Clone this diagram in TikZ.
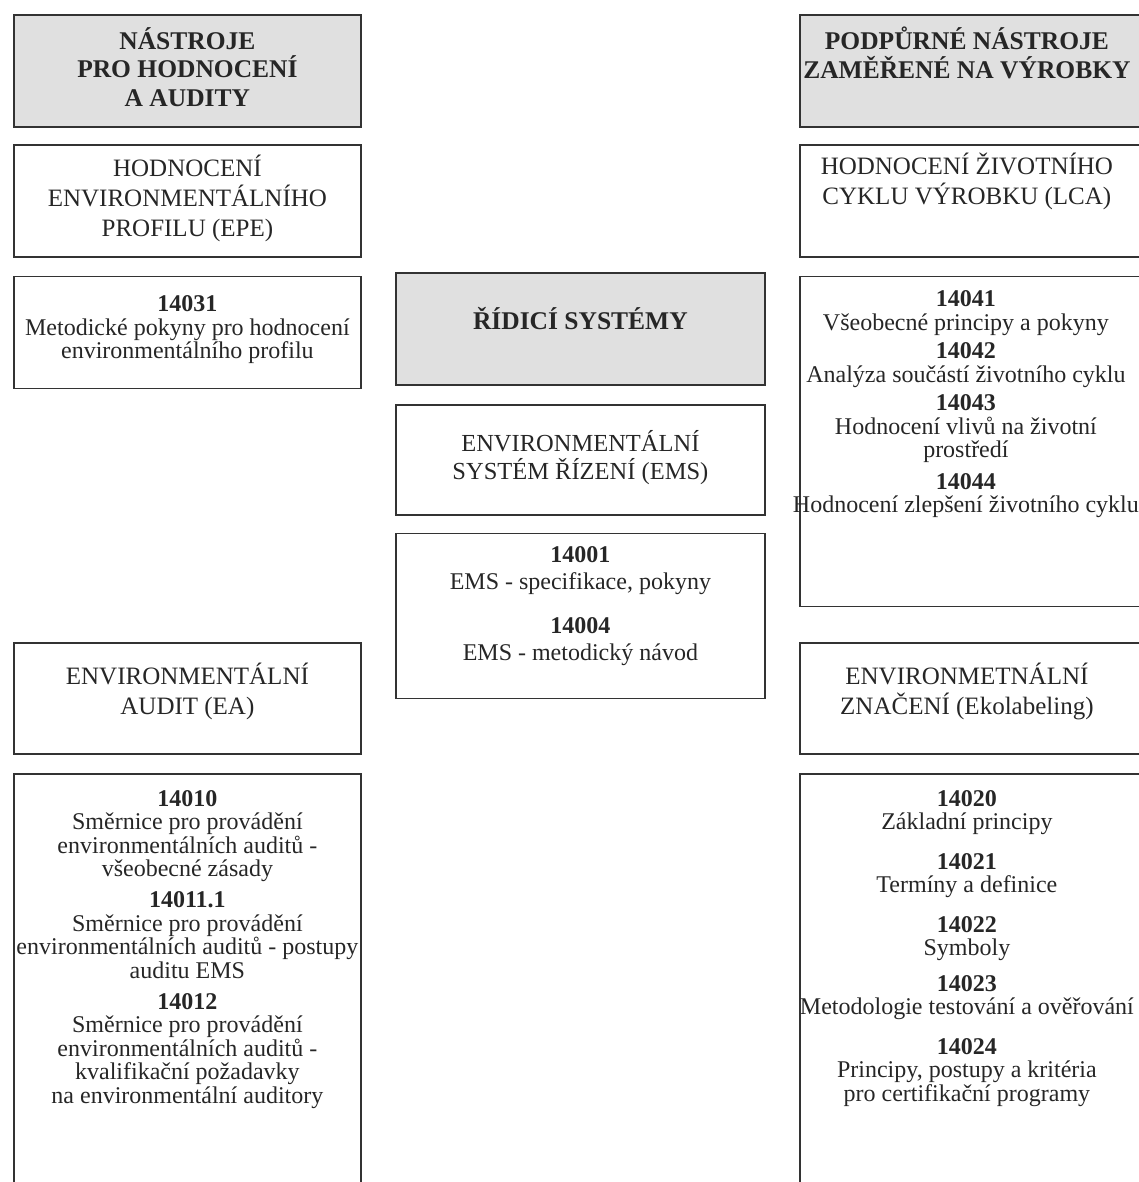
\documentclass[tikz,border=0pt]{standalone}
\usepackage{fontspec}
\setmainfont{Liberation Serif}
\usetikzlibrary{positioning}

\begin{document}
\begin{tikzpicture}[x=1pt, y=-1pt,
      panel/.style={draw=black!80, line width=1.8pt, inner sep=0pt,
                    minimum height=112pt},
      shaded/.style={panel, fill=black!12},
      lcol/.style={minimum width=347pt},
      mcol/.style={minimum width=369pt},
      rcol/.style={minimum width=342pt},
      head/.style={font=\bfseries\fontsize{25.5}{28.5}\selectfont,
                   align=center, inner sep=0pt, text=black!85},
      ttl/.style={font=\fontsize{25}{30}\selectfont,
                  align=center, inner sep=0pt, text=black!85},
      body/.style={font=\fontsize{24}{23.5}\selectfont,
                   align=center, inner sep=0pt, text=black!85}]
    \useasboundingbox (0,0) rectangle (1138,1182);
    \node[shaded, lcol, anchor=north west] (nastroje) at (13,14) {};
    \node[panel, lcol, below=16pt of nastroje] (epe) {};
    \node[panel, lcol, below=18pt of epe] (epe-std) {};
    \node[panel, lcol, minimum height=111pt, below=253pt of epe-std] (ea) {};
    \node[panel, lcol, minimum height=430pt, below=18pt of ea] (ea-std) {};
    \node[shaded, mcol, anchor=north west] (ridici) at (395,272) {};
    \node[panel, mcol, minimum height=110pt, below=18pt of ridici] (ems) {};
    \node[panel, mcol, minimum height=165pt, below=17pt of ems] (ems-std) {};
    \node[shaded, rcol, anchor=north west] (vyrobky) at (799,14) {};
    \node[panel, rcol, below=16pt of vyrobky] (lca) {};
    \node[panel, rcol, minimum height=330pt, below=18pt of lca] (lca-std) {};
    \node[panel, rcol, minimum height=111pt, below=35pt of lca-std] (znaceni) {};
    \node[panel, rcol, minimum height=430pt, below=18pt of znaceni] (znaceni-std) {};
    \node[head, below=13pt of nastroje.north] (nastroje-txt)
      {NÁSTROJE\\PRO HODNOCENÍ\\A AUDITY};
    \node[ttl, below=11pt of epe.north] (epe-txt)
      {HODNOCENÍ\\ENVIRONMENTÁLNÍHO\\PROFILU (EPE)};
    \node[body, below=20pt of epe-std.north] (epe-std-txt)
      {\textbf{14031}\\Metodické pokyny pro hodnocení\\environmentálního profilu};
    \node[ttl, below=20pt of ea.north] (ea-txt)
      {ENVIRONMENTÁLNÍ\\AUDIT (EA)};
    \node[body, below=17pt of ea-std.north] (ea-std-txt)
      {\textbf{14010}\\Směrnice pro provádění\\environmentálních auditů -\\všeobecné zásady\\[7.5pt]
       \textbf{14011.1}\\Směrnice pro provádění\\environmentálních auditů - postupy\\auditu EMS\\[7.5pt]
       \textbf{14012}\\Směrnice pro provádění\\environmentálních auditů -\\kvalifikační požadavky\\na environmentální auditory};
    \node[head, below=35pt of ridici.north] (ridici-txt) {ŘÍDICÍ SYSTÉMY};
    \node[ttl, font=\fontsize{24.5}{28}\selectfont, below=26pt of ems.north] (ems-txt)
      {ENVIRONMENTÁLNÍ\\SYSTÉM ŘÍZENÍ (EMS)};
    \node[body, font=\fontsize{24}{27}\selectfont, below=14pt of ems-std.north] (ems-std-txt)
      {\textbf{14001}\\EMS - specifikace, pokyny\\[17pt]\textbf{14004}\\EMS - metodický návod};
    \node[head, below=13pt of vyrobky.north, xshift=-4pt] (vyrobky-txt)
      {PODPŮRNÉ NÁSTROJE\\ZAMĚŘENÉ NA VÝROBKY};
    \node[ttl, below=9pt of lca.north, xshift=-4pt] (lca-txt)
      {HODNOCENÍ ŽIVOTNÍHO\\CYKLU VÝROBKU (LCA)};
    \node[body, below=15pt of lca-std.north, xshift=-5pt] (lca-std-txt)
      {\textbf{14041}\\Všeobecné principy a pokyny\\[5pt]
       \textbf{14042}\\Analýza součástí životního cyklu\\[5pt]
       \textbf{14043}\\Hodnocení vlivů na životní\\prostředí\\[8pt]
       \textbf{14044}\\Hodnocení zlepšení životního cyklu};
    \node[ttl, below=20pt of znaceni.north, xshift=-4pt] (znaceni-txt)
      {ENVIRONMETNÁLNÍ\\ZNAČENÍ (Ekolabeling)};
    \node[body, below=17pt of znaceni-std.north, xshift=-4pt] (znaceni-std-txt)
      {\textbf{14020}\\Základní principy\\[16pt]\textbf{14021}\\Termíny a definice\\[16pt]
       \textbf{14022}\\Symboly\\[12pt]\textbf{14023}\\Metodologie testování a ověřování\\[16pt]
       \textbf{14024}\\Principy, postupy a kritéria\\pro certifikační programy};
  \end{tikzpicture}
\end{document}
